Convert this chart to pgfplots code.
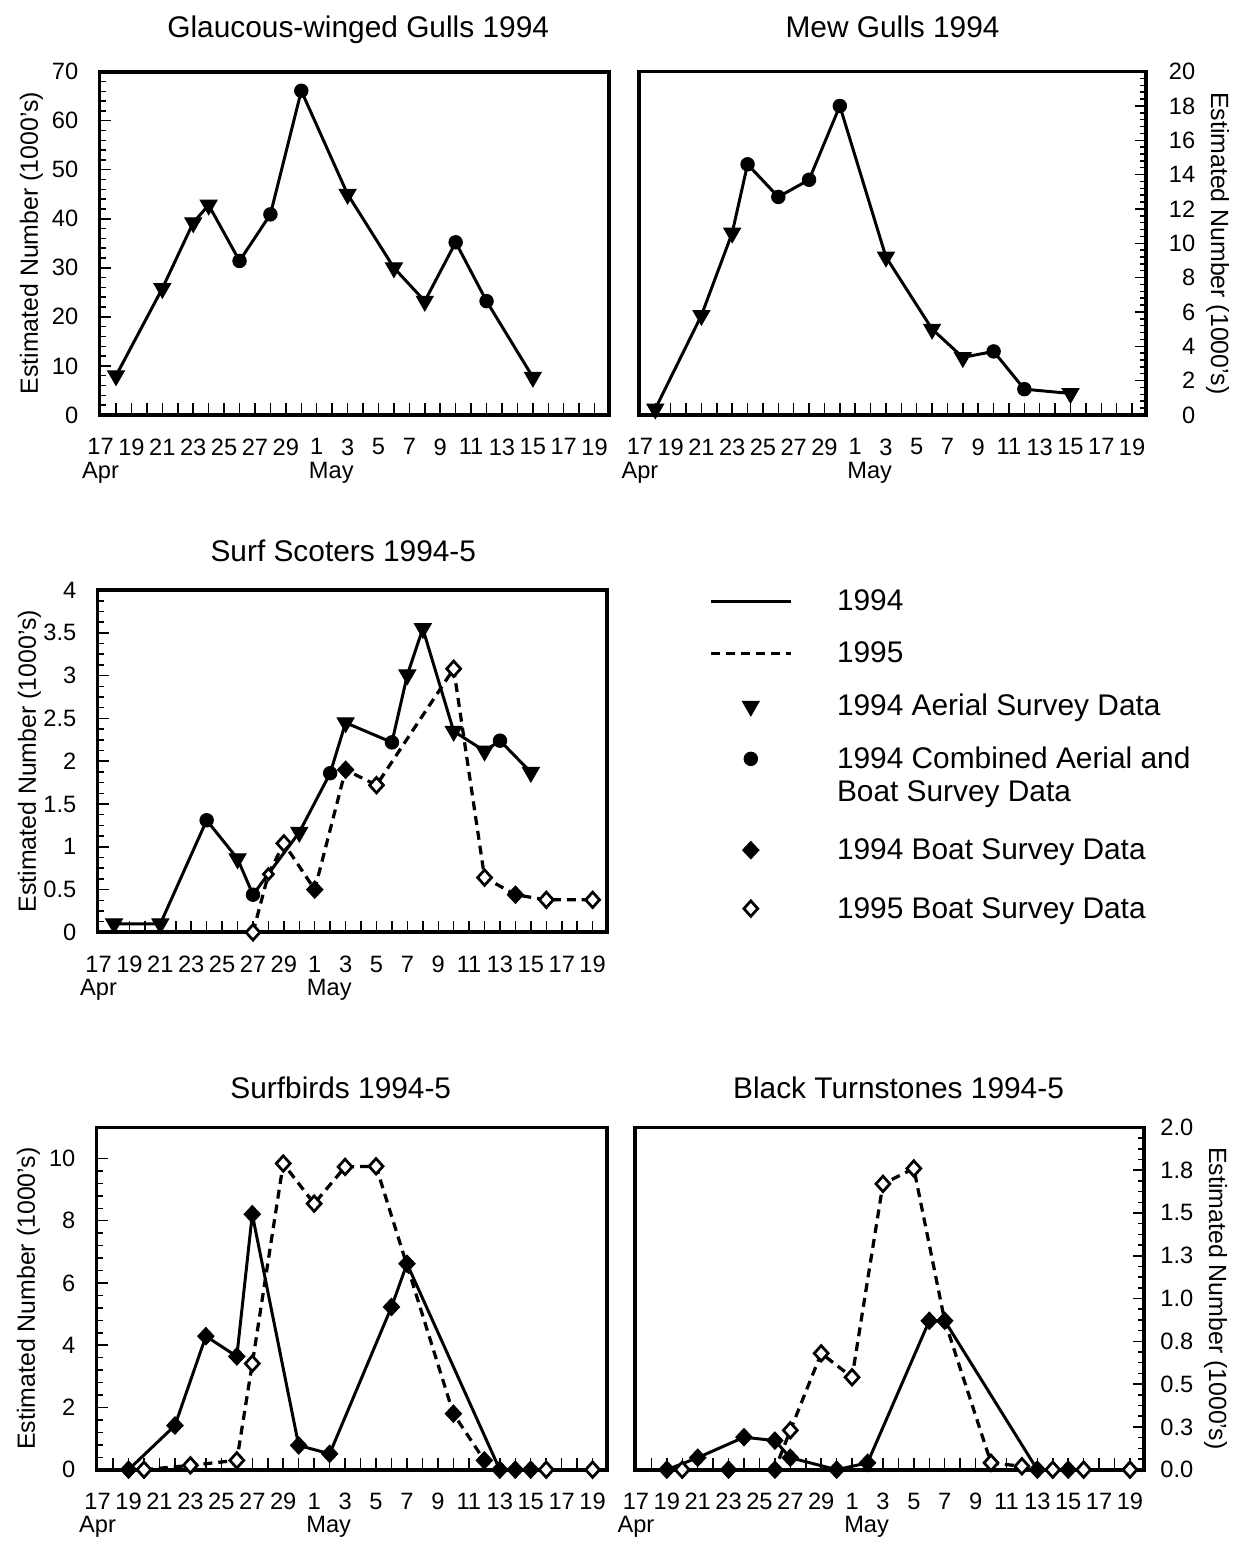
\documentclass[border=0pt]{standalone}
\usepackage{fontspec}
\setmainfont{Liberation Sans}
\usepackage{pgfplots}
\pgfplotsset{compat=1.18}

\pgfplotsset{
  tri/.style={mark=triangle*, mark size=3.9pt, mark options={rotate=180, solid, fill=black, draw=black, line width=0.4pt}},
  circ/.style={mark=*, mark size=2.7pt, mark options={solid, fill=black, draw=black}},
  fdia/.style={mark=diamond*, mark size=3.5pt, mark options={solid, xscale=1.25, fill=black, draw=black, line width=0.4pt}},
  odia/.style={mark=diamond*, mark size=3.1pt, mark options={solid, xscale=1.2, fill=white, draw=black, line width=1.1pt}},
  l94/.style={black, line width=1.2pt, solid},
  l95/.style={black, line width=1.3pt, dash pattern=on 3.6pt off 2.4pt},
  circleg/.style={legend image code/.code={\path (0pt,0pt) (32pt,0pt);
    \draw[mark repeat=2,mark phase=2,##1] plot coordinates {(0pt,17pt) (16pt,17pt) (32pt,17pt)};}},
  panel/.style={
    scale only axis,
    xmin=-0.07, xmax=32.93,
    xtick={0,...,32},
    xticklabels={{17\\Apr},,19,,21,,23,,25,,27,,29,,{1\\\makebox[0pt][l]{\hspace{-0.33em}May}},,3,,5,,7,,9,,11,,13,,15,,17,,19},
    tick align=inside,
    xtick pos=left,
    major tick length=4.6pt,
    minor tick length=2.6pt,
    every tick/.style={black, line width=0.6pt},
    axis line style={line width=1.5pt},
    clip=false,
    xticklabel style={font=\fontsize{9.5}{9.3}\selectfont, align=center, yshift=-6.0pt},
    yticklabel style={font=\fontsize{9.5}{11}\selectfont},
    every axis title/.style={at={(axis description cs:0.5,1)}, anchor=base, font=\fontsize{12}{14}\selectfont},
  },
  leftax/.style={ytick pos=left, yticklabel pos=left,
    yticklabel style={xshift=-5.0pt},
    every axis y label/.style={at={([xshift=-27.4pt]axis description cs:0,0.5)}, rotate=90, anchor=center, font=\fontsize{10}{12}\selectfont},
    ylabel={Estimated Number (1000's)}},
  rightax/.style={ytick pos=right, yticklabel pos=right,
    yticklabel style={anchor=east, xshift=23.2pt},
    every axis y label/.style={at={([xshift=28.6pt]axis description cs:1,0.5)}, rotate=-90, anchor=center, font=\fontsize{10}{12}\selectfont},
    ylabel={Estimated Number (1000's)}},
}

\begin{document}
\begin{tikzpicture}
\path (0pt,0pt) rectangle (495.2pt,618.4pt);

% ---------------- Glaucous-winged Gulls 1994 ----------------
\begin{axis}[panel, leftax, at={(40pt,451.6pt)}, anchor=south west,
  width=204.8pt, height=138pt, ymin=0, ymax=70,
  ytick={0,10,...,70}, yticklabels={0,10,20,30,40,50,60,70}, minor y tick num=4,
  title={Glaucous-winged Gulls 1994}, title style={xshift=1.6pt, yshift=13.6pt}]
\addplot[l94] coordinates {(1,8) (4,25.8) (6,39.2) (7,42.8) (9,31.4) (11,40.9) (13,66.1) (16,45) (19,30) (21,23.2) (23,35.2) (25,23.2) (28,7.7)};
\addplot[only marks, tri] coordinates {(1,8) (4,25.8) (6,39.2) (7,42.8) (16,45) (19,30) (21,23.2) (28,7.7)};
\addplot[only marks, circ] coordinates {(9,31.4) (11,40.9) (13,66.1) (23,35.2) (25,23.2)};
\end{axis}

% ---------------- Mew Gulls 1994 ----------------
\begin{axis}[panel, rightax, at={(256.8pt,451.6pt)}, anchor=south west,
  width=204pt, height=138pt, ymin=0, ymax=20,
  ytick={0,2,...,20}, yticklabels={0,2,4,6,8,10,12,14,16,18,20}, minor y tick num=4,
  title={Mew Gulls 1994}, title style={yshift=13.6pt}]
\addplot[l94] coordinates {(1,0.35) (4,5.8) (6,10.6) (7,14.6) (9,12.7) (11,13.7) (13,18.0) (16,9.2) (19,5.0) (21,3.35) (23,3.7) (25,1.5) (28,1.25)};
\addplot[only marks, tri] coordinates {(1,0.35) (4,5.8) (6,10.6) (16,9.2) (19,5.0) (21,3.35) (28,1.25)};
\addplot[only marks, circ] coordinates {(7,14.6) (9,12.7) (11,13.7) (13,18.0) (23,3.7) (25,1.5)};
\end{axis}

% ---------------- Surf Scoters 1994-5 ----------------
\begin{axis}[panel, leftax, at={(39.2pt,243.6pt)}, anchor=south west,
  width=204.8pt, height=137.6pt, ymin=0, ymax=4,
  ytick={0,0.5,...,4}, yticklabels={0,0.5,1,1.5,2,2.5,3,3.5,4}, minor y tick num=3,
  title={Surf Scoters 1994-5}, title style={xshift=-3.6pt, yshift=11.6pt},
  legend style={at={(axis description cs:1.201,1.0)}, anchor=north west,
    draw=none, fill=none, inner sep=0pt, outer sep=0pt, row sep=11pt,
    font=\fontsize{12}{13.2}\selectfont, cells={anchor=base west},
    nodes={inner sep=0pt, align=left},
    /tikz/every odd column/.append style={column sep=18pt}},
  legend image code/.code={\path (0pt,0pt) (32pt,0pt);
    \draw[mark repeat=2,mark phase=2,#1] plot coordinates {(0pt,3.8pt) (16pt,3.8pt) (32pt,3.8pt)};}]
\addplot[l94, forget plot] coordinates {(1,0.1) (4,0.1) (7,1.31) (9,0.86) (10,0.44) (13,1.17) (15,1.86) (16,2.45) (19,2.22) (20,3.01) (21,3.55) (23,2.35) (25,2.12) (26,2.24) (28,1.87)};
\addplot[l95, forget plot] coordinates {(10,0) (11,0.68) (12,1.04) (14,0.5) (16,1.9) (18,1.72) (23,3.08) (25,0.64) (27,0.44) (29,0.38) (32,0.38)};
\addplot[only marks, tri, forget plot] coordinates {(1,0.1) (4,0.1) (9,0.86) (13,1.17) (16,2.45) (20,3.01) (21,3.55) (23,2.35) (25,2.12) (28,1.87)};
\addplot[only marks, circ, forget plot] coordinates {(7,1.31) (10,0.44) (15,1.86) (19,2.22) (26,2.24)};
\addplot[only marks, odia, forget plot] coordinates {(10,0) (12,1.04) (18,1.72) (23,3.08) (25,0.64) (29,0.38) (32,0.38)};
\addplot[only marks, odia, mark size=2.2pt, forget plot] coordinates {(11,0.68)};
\addplot[only marks, fdia, forget plot] coordinates {(14,0.5) (16,1.9) (27,0.44)};
\addlegendimage{l94}
\addlegendentry{1994}
\addlegendimage{l95}
\addlegendentry{1995}
\addlegendimage{only marks, tri}
\addlegendentry{1994 Aerial Survey Data}
\addlegendimage{only marks, circ, circleg}
\addlegendentry{1994 Combined Aerial and\\Boat Survey Data}
\addlegendimage{only marks, fdia}
\addlegendentry{\rule{0pt}{11pt}1994 Boat Survey Data}
\addlegendimage{only marks, odia}
\addlegendentry{\rule{0pt}{11pt}1995 Boat Survey Data}
\end{axis}

% ---------------- Surfbirds 1994-5 ----------------
\begin{axis}[panel, leftax, at={(38.8pt,27.6pt)}, anchor=south west,
  width=205.2pt, height=137.6pt, ymin=0, ymax=11,
  ytick={0,2,...,10}, yticklabels={0,2,4,6,8,10}, minor y tick num=4,
  title={Surfbirds 1994-5}, title style={xshift=-4.4pt, yshift=11.6pt}]
\addplot[l94] coordinates {(2,0) (5,1.42) (7,4.29) (9,3.64) (10,8.21) (13,0.78) (15,0.51) (19,5.23) (20,6.62) (26,0) (27,0) (28,0)};
\addplot[l95] coordinates {(3,0) (6,0.14) (9,0.3) (10,3.41) (12,9.84) (14,8.55) (16,9.73) (18,9.75) (23,1.8) (25,0.3) (26,0) (27,0) (28,0) (29,0) (32,0)};
\addplot[only marks, odia] coordinates {(3,0) (6,0.14) (9,0.3) (10,3.41) (12,9.84) (14,8.55) (16,9.73) (18,9.75) (29,0) (32,0)};
\addplot[only marks, fdia] coordinates {(2,0) (5,1.42) (7,4.29) (9,3.64) (10,8.21) (13,0.78) (15,0.51) (19,5.23) (20,6.62) (23,1.8) (25,0.3) (26,0) (27,0) (28,0)};
\end{axis}

% ---------------- Black Turnstones 1994-5 ----------------
\begin{axis}[panel, rightax, at={(255.2pt,27.6pt)}, anchor=south west,
  width=204.8pt, height=137.6pt, ymin=0, ymax=2,
  ytick={0,0.25,...,2}, yticklabels={0.0,0.3,0.5,0.8,1.0,1.3,1.5,1.8,2.0}, minor y tick num=3,
  title={Black Turnstones 1994-5}, title style={xshift=3.6pt, yshift=11.6pt}]
\addplot[l94] coordinates {(2,0) (4,0.07) (7,0.19) (9,0.17) (10,0.07) (13,0) (15,0.04) (19,0.87) (20,0.87) (26,0) (28,0)};
\addplot[l95] coordinates {(3,0) (6,0) (9,0) (10,0.23) (12,0.68) (14,0.54) (16,1.67) (18,1.76) (20,0.87) (23,0.04) (25,0.02) (27,0) (29,0) (32,0)};
\addplot[only marks, odia] coordinates {(3,0) (10,0.23) (12,0.68) (14,0.54) (16,1.67) (18,1.76) (23,0.04) (25,0.02) (27,0) (29,0) (32,0)};
\addplot[only marks, fdia] coordinates {(2,0) (4,0.07) (6,0) (7,0.19) (9,0.17) (9,0) (10,0.07) (13,0) (15,0.04) (19,0.87) (20,0.87) (26,0) (28,0)};
\end{axis}
\end{tikzpicture}
\end{document}
